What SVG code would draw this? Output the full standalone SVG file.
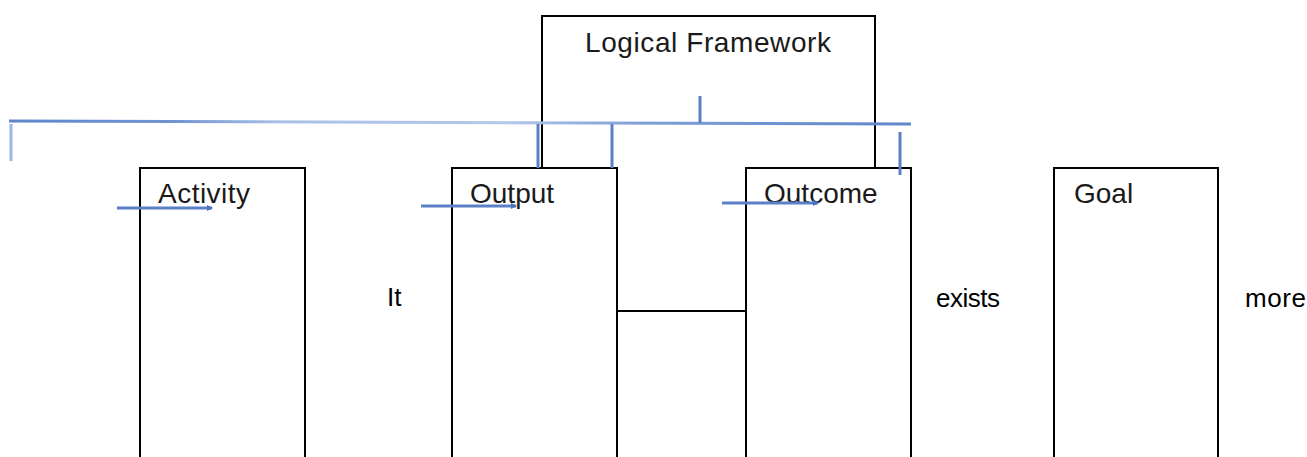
<svg xmlns="http://www.w3.org/2000/svg" width="1307" height="457" viewBox="0 0 1307 457">
<style>
.box{fill:none;stroke:#000;stroke-width:2}
.lbl{font-family:"Liberation Sans",Arial,sans-serif;font-size:28px;fill:#1a1a1a}
.word{font-family:"Liberation Sans",Arial,sans-serif;font-size:26px;fill:#000}
.blue{stroke:#5b80c6;stroke-width:3;fill:none}
.lblue{stroke:#9cb6e2;stroke-width:3;fill:none}
</style>
<defs>
<linearGradient id="hg" x1="0" y1="0" x2="1" y2="0">
<stop offset="0" stop-color="#5f86cc"/>
<stop offset="0.18" stop-color="#7093d0"/>
<stop offset="0.3" stop-color="#a9c0e6"/>
<stop offset="0.55" stop-color="#b3c7e9"/>
<stop offset="0.7" stop-color="#7e9fd6"/>
<stop offset="1" stop-color="#5f86cc"/>
</linearGradient>
<marker id="ah" markerWidth="6" markerHeight="6" refX="5" refY="3" orient="auto" markerUnits="userSpaceOnUse">
<path d="M0,0 L6,3 L0,6 Z" fill="#4a72c0"/>
</marker>
</defs>
<g id="logical-framework">
<path class="box" d="M542,168 V16 H875 V168"/>
<text class="lbl" x="585" y="52" textLength="246">Logical Framework</text>
</g>
<g id="activity">
<path class="box" d="M140,460 V168 H305 V460"/>
<text class="lbl" x="158" y="203" textLength="92">Activity</text>
</g>
<g id="output">
<path class="box" d="M452,460 V168 H617 V460"/>
<text class="lbl" x="470" y="203">Output</text>
</g>
<g id="outcome">
<path class="box" d="M746,460 V168 H911 V460"/>
<text class="lbl" x="764" y="203">Outcome</text>
</g>
<g id="goal">
<path class="box" d="M1054,460 V168 H1218 V460"/>
<text class="lbl" x="1074" y="203">Goal</text>
</g>
<g id="words">
<text class="word" x="387" y="306">It</text>
<text class="word" x="936" y="307" textLength="64">exists</text>
<text class="word" x="1245" y="307" textLength="61">more</text>
</g>
<g id="connectors">
<line class="box" x1="617" y1="311" x2="746" y2="311"/>
<path d="M9,121 L911,124" stroke="url(#hg)" stroke-width="3" fill="none"/>
<line class="lblue" x1="11" y1="124" x2="11" y2="161"/>
<line class="blue" x1="700" y1="96" x2="700" y2="123"/>
<line class="blue" x1="538" y1="124" x2="538" y2="168"/>
<line class="blue" x1="612" y1="124" x2="612" y2="168"/>
<line class="blue" x1="900" y1="132" x2="900" y2="175"/>
<line class="blue" x1="117" y1="208" x2="212" y2="208" stroke-width="2.5" marker-end="url(#ah)"/>
<line class="blue" x1="421" y1="206" x2="516" y2="206" stroke-width="2.5" marker-end="url(#ah)"/>
<line class="blue" x1="722" y1="203" x2="818" y2="203" stroke-width="2.5" marker-end="url(#ah)"/>
</g>
</svg>
